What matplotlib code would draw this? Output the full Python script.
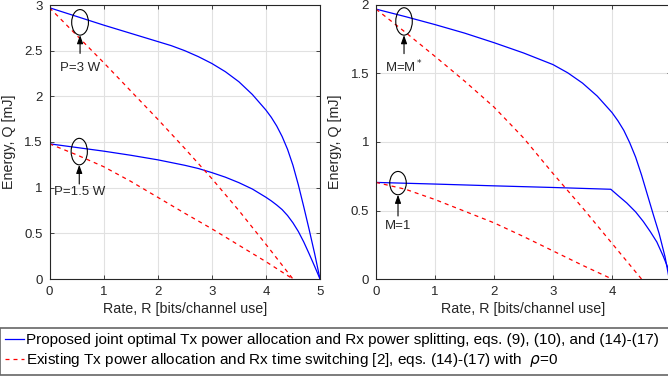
import matplotlib
matplotlib.use("Agg")
import matplotlib.pyplot as plt
from matplotlib.patches import Ellipse
from matplotlib.lines import Line2D

plt.rcParams['font.family'] = ['Liberation Sans', 'DejaVu Sans']
plt.rcParams['mathtext.fontset'] = 'dejavusans'

# ---------------- data: left panel (P = 3 W and P = 1.5 W) ----------------
R_blue_p3 = [0, 0.5, 1, 1.5, 2, 2.25, 2.5, 2.75, 3, 3.25, 3.5, 3.75, 4, 4.1, 4.2,
             4.3, 4.4, 4.5, 4.6, 4.7, 4.8, 4.9, 5.0]
Q_blue_p3 = [2.97, 2.875, 2.78, 2.69, 2.60, 2.555, 2.50, 2.435, 2.36, 2.27, 2.16, 2.02,
             1.85, 1.77, 1.675, 1.56, 1.42, 1.245, 1.03, 0.79, 0.54, 0.28, 0.0]

R_blue_p15 = [0, 0.5, 1, 1.5, 2, 2.5, 2.75, 3, 3.25, 3.5, 3.75, 4, 4.1, 4.2, 4.3,
              4.4, 4.5, 4.6, 4.7, 4.8, 4.9, 5.0]
Q_blue_p15 = [1.48, 1.44, 1.40, 1.355, 1.305, 1.245, 1.21, 1.165, 1.115, 1.055, 0.985,
              0.895, 0.855, 0.81, 0.76, 0.695, 0.615, 0.52, 0.405, 0.275, 0.14, 0.0]

R_red_p3 = [0, 0.5, 1, 1.5, 2, 2.5, 3, 3.5, 4, 4.5]
Q_red_p3 = [2.97, 2.67, 2.37, 2.06, 1.75, 1.43, 1.10, 0.75, 0.38, 0.0]

R_red_p15 = [0, 0.5, 1, 1.5, 2, 2.5, 3, 3.5, 4, 4.5]
Q_red_p15 = [1.48, 1.36, 1.23, 1.07, 0.895, 0.72, 0.55, 0.37, 0.19, 0.0]

# ---------------- data: right panel (M = M* and M = 1) ----------------
R_blue_mstar = [0, 0.5, 1, 1.5, 2, 2.5, 3, 3.25, 3.5, 3.75, 4, 4.1, 4.2, 4.3, 4.4,
                4.5, 4.6, 4.7, 4.8, 4.9, 4.97]
Q_blue_mstar = [1.97, 1.915, 1.857, 1.795, 1.725, 1.65, 1.565, 1.505, 1.43, 1.335, 1.215,
                1.155, 1.085, 0.995, 0.89, 0.76, 0.615, 0.47, 0.33, 0.16, 0.0]

R_blue_m1 = [0, 1, 2, 3, 3.98, 4.1, 4.25, 4.4, 4.53, 4.65, 4.76, 4.87, 4.94, 5.0]
Q_blue_m1 = [0.705, 0.693, 0.68, 0.668, 0.655, 0.61, 0.555, 0.49, 0.42, 0.345, 0.27,
             0.165, 0.09, 0.0]

R_red_mstar = [0, 0.5, 1, 1.5, 2, 2.5, 3, 3.5, 4, 4.5]
Q_red_mstar = [1.97, 1.80, 1.625, 1.445, 1.255, 1.03, 0.77, 0.52, 0.26, 0.0]

R_red_m1 = [0, 0.5, 1, 1.5, 2, 2.5, 3, 3.5, 4]
Q_red_m1 = [0.705, 0.655, 0.58, 0.495, 0.41, 0.31, 0.205, 0.10, 0.0]

left_yticks = [0, 0.5, 1, 1.5, 2, 2.5, 3]
right_yticks = [0, 0.5, 1, 1.5, 2]
xticks = [0, 1, 2, 3, 4, 5]

legend_labels = [
    "Proposed joint optimal Tx power allocation and Rx power splitting, eqs. (9), (10), and (14)-(17)",
    "Existing Tx power allocation and Rx time switching [2], eqs. (14)-(17) with  $\\rho$=0",
]

W, H = 668, 377
fig = plt.figure(figsize=(W / 100, H / 100), dpi=100)

BLUE = '#0000ff'
RED = '#ff0000'
DARK = '#262626'
FS = 9.5
dash = (0, (3.2, 3.2))


def style(ax, ylim, yticks):
    ax.set_xlim(0, 5)
    ax.set_ylim(*ylim)
    ax.set_xticks(xticks)
    ax.set_yticks(yticks)
    ax.set_yticklabels([('%g' % v) for v in yticks])
    ax.grid(True, color='#e1e1e1', linewidth=0.8)
    ax.set_axisbelow(True)
    ax.tick_params(direction='in', length=3, width=0.6, colors=DARK, labelsize=FS,
                   top=True, right=True, pad=5)
    for s in ax.spines.values():
        s.set_color(DARK)
        s.set_linewidth(0.8)
    ax.set_xlabel('Rate, R [bits/channel use]', fontsize=10.3, color=DARK, labelpad=3)
    ax.set_ylabel('Energy, Q [mJ]', fontsize=10.3, color=DARK, labelpad=6)


def annot(ax, cx, cy, w, h, y_tail, text, ty):
    ax.add_patch(Ellipse((cx, cy), w, h, fill=False, edgecolor='black', linewidth=0.8,
                         zorder=5))
    ax.annotate('', xy=(cx, cy - h / 2), xytext=(cx, y_tail),
                arrowprops=dict(arrowstyle='-|>,head_length=0.5,head_width=0.18',
                                color='black', lw=0.8, shrinkA=0, shrinkB=0), zorder=5)
    ax.text(cx, ty, text, ha='center', va='center', fontsize=FS, color=DARK, zorder=6)


# ---------------- left axes ----------------
ax1 = fig.add_axes([49.5 / W, 1 - 279 / H, (320 - 49.5) / W, (279 - 5) / H])
ax1.plot(R_blue_p3, Q_blue_p3, color=BLUE, lw=0.9)
ax1.plot(R_blue_p15, Q_blue_p15, color=BLUE, lw=0.9)
ax1.plot(R_red_p3, Q_red_p3, color=RED, lw=0.9, linestyle=dash)
ax1.plot(R_red_p15, Q_red_p15, color=RED, lw=0.9, linestyle=dash)
style(ax1, (0, 3), left_yticks)
annot(ax1, 0.565, 2.81, 0.31, 0.28, 2.47, 'P=3 W', 2.31)
annot(ax1, 0.55, 1.395, 0.30, 0.29, 1.04, 'P=1.5 W', 0.95)

# ---------------- right axes ----------------
ax2 = fig.add_axes([376 / W, 1 - 279 / H, (671 - 376) / W, (279 - 5) / H])
ax2.plot(R_blue_mstar, Q_blue_mstar, color=BLUE, lw=0.9)
ax2.plot(R_blue_m1, Q_blue_m1, color=BLUE, lw=0.9)
ax2.plot(R_red_mstar, Q_red_mstar, color=RED, lw=0.9, linestyle=dash)
ax2.plot(R_red_m1, Q_red_m1, color=RED, lw=0.9, linestyle=dash)
style(ax2, (0, 2), right_yticks)
annot(ax2, 0.475, 1.88, 0.28, 0.20, 1.645, 'M=M$^*$', 1.55)
annot(ax2, 0.373, 0.70, 0.28, 0.17, 0.46, 'M=1', 0.385)

# ---------------- legend ----------------
handles = [Line2D([], [], color=BLUE, lw=0.9),
           Line2D([], [], color=RED, lw=0.9, linestyle=dash)]
leg = fig.legend(handles, legend_labels, loc='upper left',
                 bbox_to_anchor=(0.0, 1 - 328 / H, 1.02, 0.0), mode='expand',
                 borderaxespad=0, fontsize=11, frameon=True, fancybox=False,
                 handlelength=1.2, handletextpad=0.15, borderpad=0.35,
                 labelspacing=0.25)
leg.get_frame().set_edgecolor('#404040')
leg.get_frame().set_linewidth(1.2)
for t in leg.get_texts():
    t.set_color('black')

fig.savefig('out.png', dpi=100)
